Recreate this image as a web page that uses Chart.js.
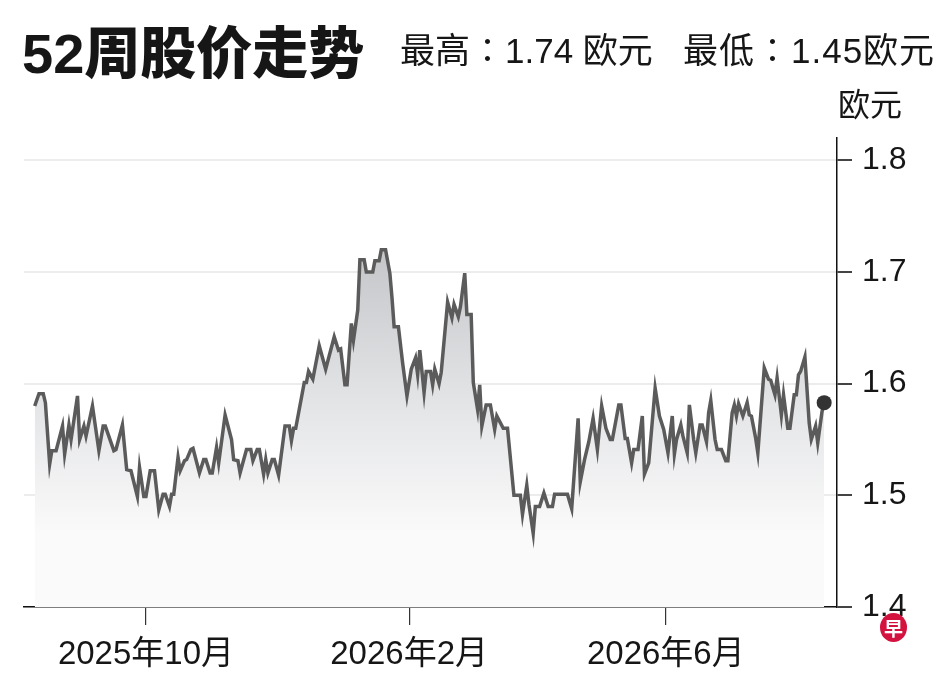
<!DOCTYPE html>
<html lang="zh-CN">
<head>
<meta charset="utf-8">
<title>52周股价走势</title>
<script src="https://cdn.jsdelivr.net/npm/chart.js@4.4.1/dist/chart.umd.min.js"></script>
<style>
  html, body { margin: 0; padding: 0; background: #fff; }
  #wrap { position: relative; width: 948px; height: 677px; overflow: hidden; }
  #chartBox { position: absolute; left: 0; top: 0; width: 948px; height: 677px; }
  .txt {
    position: absolute; white-space: nowrap; line-height: 1; color: #161616;
    font-family: "Liberation Sans", "Noto Sans CJK SC", sans-serif;
  }
  #title { left: 22px; top: 26px; font-size: 56px; font-weight: 900; letter-spacing: 0; }
  #high { left: 400px; top: 33px; font-size: 35px; }
  #low { left: 683px; top: 33px; font-size: 35px; letter-spacing: 1px; }
  #unit { left: 838px; top: 89px; font-size: 32px; }
  #logo {
    position: absolute; left: 880px; top: 613px; width: 27px; height: 29px; border-radius: 50%;
    background: #d3123f; color: #fff; font: bold 19px "Noto Sans CJK SC", sans-serif;
    line-height: 29px; text-align: center;
  }
</style>
</head>
<body>
<div id="wrap">
  <div id="chartBox"><canvas id="priceChart"></canvas></div>
  <div class="txt" id="title">52周股价走势</div>
  <div class="txt" id="high">最高∶1.74 欧元</div>
  <div class="txt" id="low">最低∶1.45欧元</div>
  <div class="txt" id="unit">欧元</div>
  <div id="logo">早</div>
</div>
<script>
"use strict";

// days counted from 2025-08-01
const days = [
  9, 11, 13, 14, 16, 17, 19, 22, 23, 25,
  26, 29, 30, 32, 33, 36, 39, 41, 42, 46,
  47, 50, 52, 54, 57, 58, 60, 61, 63, 65,
  67, 69, 70, 72, 73, 74, 76, 77, 79, 80,
  82, 83, 86, 88, 89, 91, 92, 94, 95, 98,
  101, 102, 104, 105, 108, 110, 111, 113, 114, 116,
  117, 118, 120, 121, 123, 126, 128, 129, 130, 131,
  135, 136, 137, 139, 142, 145, 149, 151, 152, 154,
  155, 157, 158, 160, 161, 163, 164, 167, 168, 170,
  171, 173, 175, 176, 177, 179, 181, 183, 185, 187,
  188, 189, 191, 192, 194, 195, 196, 198, 199, 202,
  204, 205, 207, 208, 210, 211, 213, 214, 216, 217,
  218, 220, 222, 224, 225, 228, 230, 233, 236, 237,
  239, 240, 242, 243, 245, 247, 249, 251, 252, 258,
  260, 263, 264, 266, 268, 270, 272, 274, 276, 278,
  279, 282, 283, 285, 286, 288, 289, 291, 293, 294,
  296, 299, 301, 303, 305, 307, 308, 309, 311, 312,
  314, 315, 317, 318, 320, 321, 323, 324, 325, 327,
  328, 330, 332, 333, 335, 336, 337, 338, 340, 342,
  343, 344, 346, 347, 350, 352, 353, 355, 356, 358,
  359, 361, 362, 364, 365, 366, 367, 369, 371, 372,
  374, 375, 377, 378
];

// closing price, euro
const prices = [
  1.580, 1.591, 1.591, 1.583, 1.528, 1.540, 1.540, 1.562, 1.537, 1.563,
  1.550, 1.589, 1.550, 1.562, 1.553, 1.580, 1.540, 1.562, 1.562, 1.540,
  1.541, 1.563, 1.523, 1.522, 1.499, 1.525, 1.499, 1.499, 1.522, 1.522,
  1.487, 1.501, 1.501, 1.490, 1.501, 1.501, 1.534, 1.522, 1.531, 1.532,
  1.541, 1.542, 1.520, 1.532, 1.532, 1.520, 1.520, 1.543, 1.529, 1.572,
  1.550, 1.532, 1.531, 1.520, 1.541, 1.541, 1.531, 1.541, 1.541, 1.519,
  1.532, 1.520, 1.532, 1.532, 1.518, 1.562, 1.562, 1.549, 1.560, 1.560,
  1.601, 1.601, 1.611, 1.604, 1.634, 1.613, 1.642, 1.630, 1.631, 1.599,
  1.599, 1.654, 1.639, 1.666, 1.711, 1.711, 1.700, 1.700, 1.710, 1.710,
  1.720, 1.720, 1.699, 1.677, 1.651, 1.651, 1.618, 1.589, 1.613, 1.623,
  1.608, 1.630, 1.592, 1.611, 1.611, 1.599, 1.613, 1.600, 1.610, 1.673,
  1.659, 1.671, 1.660, 1.669, 1.699, 1.662, 1.662, 1.601, 1.577, 1.599,
  1.562, 1.581, 1.581, 1.559, 1.571, 1.560, 1.560, 1.500, 1.500, 1.483,
  1.509, 1.492, 1.466, 1.490, 1.490, 1.502, 1.490, 1.490, 1.501, 1.501,
  1.488, 1.569, 1.512, 1.532, 1.548, 1.569, 1.541, 1.580, 1.560, 1.550,
  1.550, 1.581, 1.581, 1.551, 1.551, 1.529, 1.541, 1.541, 1.571, 1.519,
  1.529, 1.596, 1.571, 1.559, 1.538, 1.571, 1.537, 1.550, 1.563, 1.553,
  1.538, 1.581, 1.550, 1.538, 1.563, 1.563, 1.548, 1.574, 1.585, 1.550,
  1.541, 1.541, 1.531, 1.531, 1.574, 1.581, 1.571, 1.582, 1.571, 1.583,
  1.572, 1.571, 1.551, 1.538, 1.614, 1.604, 1.603, 1.590, 1.605, 1.572,
  1.590, 1.560, 1.560, 1.590, 1.590, 1.608, 1.611, 1.624, 1.565, 1.550,
  1.562, 1.547, 1.575, 1.583
];

// x axis ticks: first day of the month
const monthDays = [61, 184, 304];
const monthLabels = ['2025年10月', '2026年2月', '2026年6月'];

const priceTicks = [1.4, 1.5, 1.6, 1.7, 1.8];

const fontFamily = '"Liberation Sans", "Noto Sans CJK SC", sans-serif';

// grey area under the line, fading to white near the bottom
function areaFill(context) {
  const chart = context.chart;
  if (!chart.chartArea) return 'rgba(0,0,0,0)';
  const y = chart.scales.y;
  const g = chart.ctx.createLinearGradient(0, y.getPixelForValue(Math.max(...prices)), 0, y.getPixelForValue(Math.min(...prices)));
  g.addColorStop(0, 'rgb(196,198,201)');
  g.addColorStop(0.55, 'rgb(228,229,231)');
  g.addColorStop(1, 'rgb(250,250,250)');
  return g;
}

const ctx = document.getElementById('priceChart').getContext('2d');
const chart = new Chart(ctx, {
  type: 'line',
  data: {
    datasets: [{
      data: days.map((d, i) => ({ x: d, y: prices[i] })),
      borderColor: '#5b5b5b',
      borderWidth: 3.5,
      tension: 0,
      fill: 'start',
      backgroundColor: areaFill,
      pointRadius: c => (c.dataIndex === prices.length - 1 ? 7.5 : 0),
      pointBackgroundColor: '#333',
      pointBorderWidth: 0
    }]
  },
  options: {
    responsive: true,
    maintainAspectRatio: false,
    animation: false,
    events: [],
    layout: { padding: { top: 138, left: 24, right: 0, bottom: 0 } },
    plugins: {
      legend: { display: false },
      tooltip: { enabled: false }
    },
    scales: {
      x: {
        type: 'linear',
        min: 4,
        max: 384,
        afterBuildTicks: s => { s.ticks = monthDays.map(v => ({ value: v })); },
        afterFit: s => { s.height = 70; },
        border: { color: '#111', width: 1.5 },
        grid: { drawOnChartArea: false, drawTicks: true, tickLength: 18, tickColor: '#333', lineWidth: 1.2 },
        ticks: {
          callback: (v, i) => monthLabels[i],
          font: { family: fontFamily, size: 33 },
          color: '#161616',
          padding: 10,
          maxRotation: 0,
          autoSkip: false
        }
      },
      y: {
        position: 'right',
        min: 1.4,
        max: 1.82,
        afterBuildTicks: s => { s.ticks = priceTicks.map(v => ({ value: v })); },
        afterFit: s => { s.width = 111; },
        border: { color: '#111', width: 1.5 },
        grid: { color: '#ececec', lineWidth: 2, tickLength: 15, tickColor: '#444', drawTicks: true },
        ticks: {
          callback: v => v.toFixed(1),
          font: { family: fontFamily, size: 32 },
          color: '#161616',
          padding: 10
        }
      }
    }
  }
});
</script>
</body>
</html>
